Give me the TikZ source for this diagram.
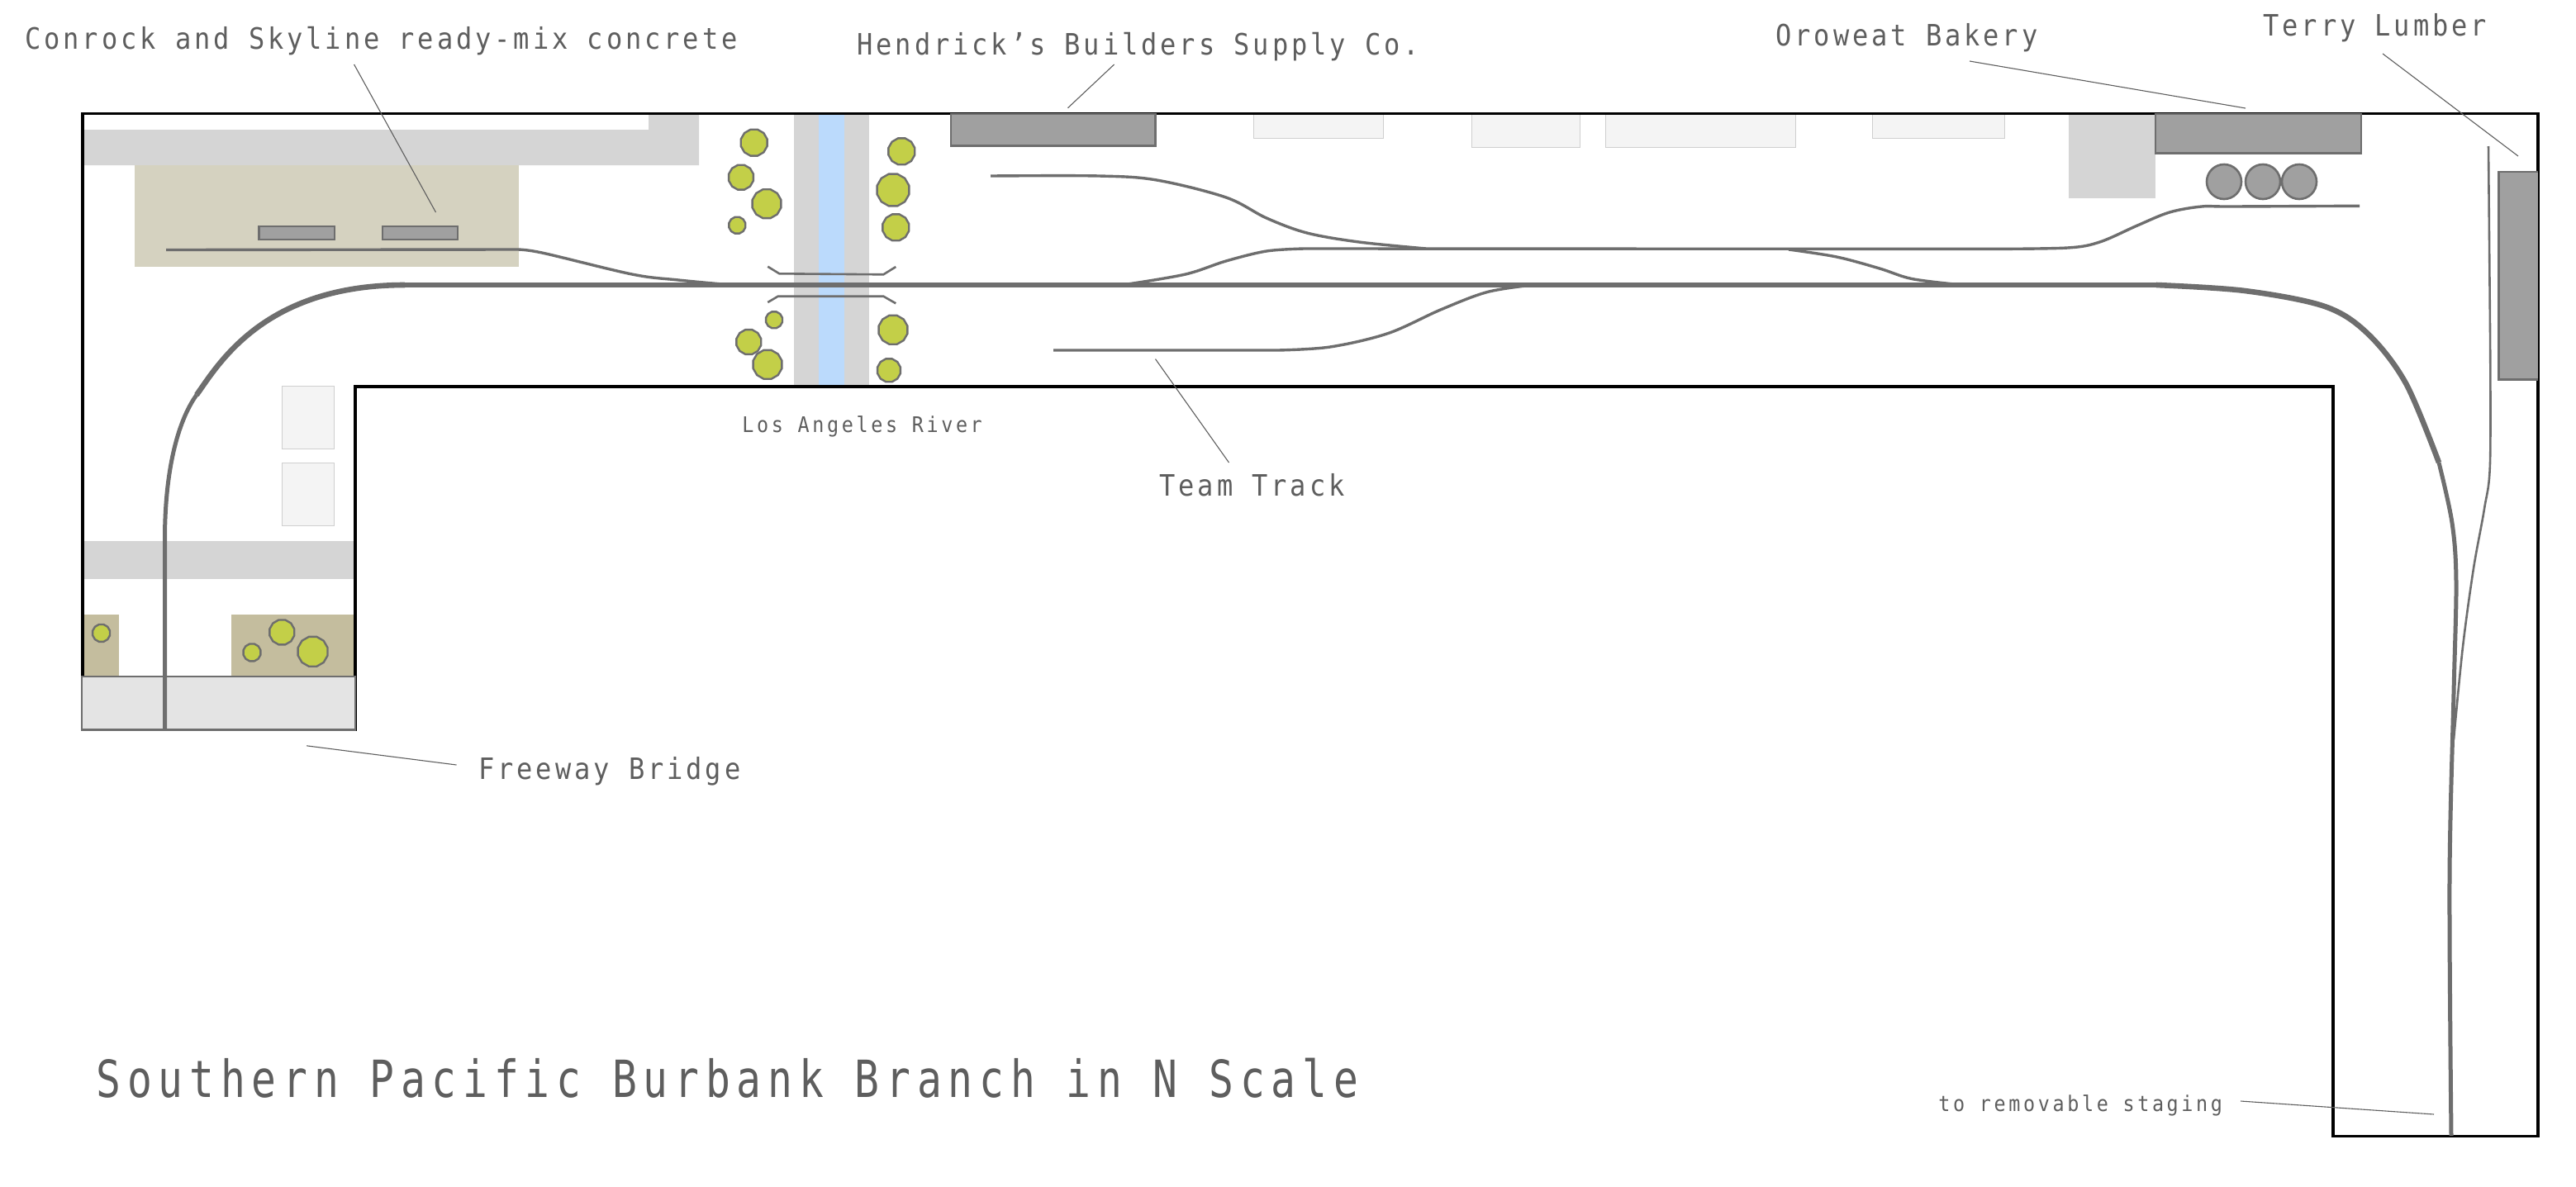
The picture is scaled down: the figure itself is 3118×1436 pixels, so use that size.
\documentclass[tikz,border=0pt]{standalone}
\usepackage{fontspec}
\usetikzlibrary{shapes.geometric}
\newfontfamily\labA{DejaVu Sans Mono}[FakeStretch=0.90,LetterSpace=11]
\newfontfamily\labB{DejaVu Sans Mono}[FakeStretch=0.90,LetterSpace=14]
\newfontfamily\labC{DejaVu Sans Mono}[FakeStretch=0.80,LetterSpace=12.6]
\definecolor{inkc}{HTML}{5E5E5E}
\definecolor{trk}{HTML}{6E6E6E}
\definecolor{road}{HTML}{D5D5D5}
\definecolor{water}{HTML}{BBDAFC}
\definecolor{plant}{HTML}{D5D2C0}
\definecolor{dirt}{HTML}{C4BD9E}
\definecolor{bldg}{HTML}{A0A0A0}
\definecolor{pale}{HTML}{F4F4F4}
\definecolor{paleline}{HTML}{CFCFCF}
\definecolor{leaf}{HTML}{C3CF48}
\definecolor{deck}{HTML}{E4E4E4}
\tikzset{
  x=0.5pt,y=-0.5pt,
  lab/.style={inner sep=0pt,anchor=base west,text=inkc,font=\fontsize{17.8pt}{20pt}\labA},
  labsmall/.style={inner sep=0pt,anchor=base west,text=inkc,font=\fontsize{13pt}{15pt}\labB},
  labtitle/.style={inner sep=0pt,anchor=base west,text=inkc,font=\fontsize{31pt}{34pt}\labC},
  leader/.style={draw=inkc,line width=0.55pt},
  paleb/.style={fill=pale,draw=paleline,line width=0.5pt},
  darkb/.style={fill=bldg,draw=trk,line width=1.25pt},
  tree/.style={regular polygon,regular polygon sides=12,inner sep=0pt,fill=leaf,draw=trk,line width=1.2pt,minimum size=#1*1.03pt},
  tank/.style={circle,inner sep=0pt,fill=bldg,draw=trk,line width=1.3pt,minimum size=21pt},
  mainline/.style={draw=trk,line width=2.8pt},
  mainarc/.style={draw=trk,line width=3.3pt},
  mainlow/.style={draw=trk,line width=2.5pt},
  spur/.style={draw=trk,line width=1.7pt},
  thin spur/.style={draw=trk,line width=1.3pt},
  smoothp/.style={smooth,tension=0.55},
}
\begin{document}
\begin{tikzpicture}
\path[use as bounding box,fill=white] (0,0) rectangle (3118,1436);
% ground
\fill[road] (100,157) -- (785,157) -- (785,139) -- (846,139) -- (846,200) -- (100,200) -- cycle;
\fill[plant] (163,200) rectangle (628,323);
\fill[road] (961,138) rectangle (1052,468);
\fill[water] (991,138) rectangle (1021.7,468);
\fill[road] (100,655) rectangle (430,700.7);
\fill[dirt] (100,743.7) rectangle (143.8,819);
\fill[dirt] (280,743.7) rectangle (430,819);
\fill[road] (2504,138) rectangle (2609,240);
% pale buildings
\draw[paleb] (1517,138) rectangle (1674,167);
\draw[paleb] (1781.5,138) rectangle (1912,178);
\draw[paleb] (1943.5,138) rectangle (2173.4,178);
\draw[paleb] (2266,138) rectangle (2426.6,167);
\draw[paleb] (341,467) rectangle (404,543);
\draw[paleb] (341,560) rectangle (404,636.6);
% benchwork outline
\draw[black,line width=1.6pt,line join=miter] (100,137.5) -- (3072,137.5) -- (3072,1375.6) -- (2824,1375.6) -- (2824,468) -- (430,468) -- (430,883) -- (100,883) -- cycle;
% industries
\draw[darkb] (313.6,274) rectangle (404.8,290);
\draw[darkb] (463,274) rectangle (554,290);
\draw[darkb] (1150.8,138) rectangle (1398.5,176.4);
\draw[darkb] (2609,138) rectangle (2858,185.7);
\draw[darkb] (3072,208) -- (3024.7,208) -- (3024.7,459.6) -- (3072,459.6);
\node[tank] (t1) at (2692,220) {};
\node[tank] (t2) at (2739,220) {};
\node[tank] (t3) at (2783,220) {};
% trees
\node[tree=16] (a1) at (912.7,172.7) {};
\node[tree=15] (a2) at (897,214.7) {};
\node[tree=17.5] (a3) at (928,246.7) {};
\node[tree=10] (a4) at (892.3,272.7) {};
\node[tree=16] (a5) at (1091.3,183.3) {};
\node[tree=19.5] (a6) at (1081,230) {};
\node[tree=16] (a7) at (1084.3,275.3) {};
\node[tree=10] (a8) at (937,387.3) {};
\node[tree=15] (a9) at (906.3,414) {};
\node[tree=17.5] (a10) at (929,441.3) {};
\node[tree=17.5] (a11) at (1081,399.3) {};
\node[tree=14] (a12) at (1076,448.3) {};
\node[tree=10.5] (b1) at (122.6,766.4) {};
\node[tree=15] (b2) at (341.3,765.4) {};
\node[tree=18] (b3) at (378.6,788.8) {};
\node[tree=10.5] (b4) at (305,789.9) {};
% freeway bridge
\draw[fill=deck,draw=trk,line width=1.4pt] (99,819) rectangle (430,883.5);
% river bridge
\draw[thin spur] (929.3,322.7) -- (943.3,331.3) -- (1069.3,332.3) -- (1084.3,323);
\draw[thin spur] (929.3,366) -- (941.7,358.7) -- (1069.3,358.7) -- (1084.3,367.3);
% tracks
\draw[mainlow] (199.5,883) -- (199.5,653) .. controls (199.5,570) and (215,510) .. (238,478);
\draw[mainarc] (238,478) .. controls (265,440) and (320,345) .. (490,345);
\draw[mainline] (490,345) -- (2610,345);
\draw[mainarc] plot[smoothp] coordinates {(2610,345) (2717,352) (2814,371) (2866,404) (2912,464) (2952,560)};
\draw[mainlow] plot[smoothp] coordinates {(2952,560) (2968,633) (2973,705) (2970,839) (2965,1063) (2967,1375)};
\draw[spur] (201,302.5) -- (624,302) plot[smoothp] coordinates {(624,302) (656,306) (765,332) (821,339) (885,345)};
\draw[spur] plot[smoothp] coordinates {(1199,213) (1330,213) (1400,218) (1484,239) (1533,264) (1582,282) (1645,293) (1726,301)};
\draw[spur] plot[smoothp] coordinates {(2856,249.3) (2700,250) (2665,250) (2626,257) (2587,273) (2541.5,293) (2502.6,300) (2412,301.4)} -- (1578.7,301)
  plot[smoothp] coordinates {(1578.7,301) (1533,304) (1484,316) (1435,332) (1365,344)};
\draw[spur] plot[smoothp] coordinates {(2165,302) (2223,311) (2275,325) (2314,337.5) (2370,344.5)};
\draw[spur] (1275,424) -- (1547,424) plot[smoothp] coordinates {(1547,424) (1610,420) (1680,403.6) (1743.6,375) (1800,353.6) (1855,345)};
\draw[thin spur] (3012,177) -- (3014,400) plot[smoothp] coordinates {(3014,400) (3014,560) (3007,616) (2994,688) (2981,783) (2970,895)};
% labels
\node[lab] (conrock) at (30,59) {Conrock and Skyline ready-mix concrete};
\node[lab] (hendrick) at (1037,66) {Hendrick’s Builders Supply Co.};
\node[lab] (oroweat) at (2149,55) {Oroweat Bakery};
\node[lab] (terry) at (2739,43.6) {Terry Lumber};
\node[lab] (team) at (1403,600) {Team Track};
\node[lab] (freeway) at (579,943) {Freeway Bridge};
\node[labsmall] (river) at (898,523) {Los Angeles River};
\node[labsmall] (stage) at (2346,1345) {to removable staging};
\node[labtitle] (title) at (116,1328) {Southern Pacific Burbank Branch in N Scale};
% leaders
\coordinate (c1) at (428.6,78); \coordinate (c2) at (527.5,257);
\coordinate (h1) at (1348.6,78); \coordinate (h2) at (1292.5,130.7);
\coordinate (o1) at (2384,74); \coordinate (o2) at (2718,131);
\coordinate (y1) at (2884,65); \coordinate (y2) at (3048,189);
\coordinate (e1) at (1398.5,434.6); \coordinate (e2) at (1487.5,560);
\coordinate (f1) at (371,902.8); \coordinate (f2) at (552.5,926);
\coordinate (s1) at (2712,1333); \coordinate (s2) at (2946,1349);
\draw[leader] (c1) -- (c2);
\draw[leader] (h1) -- (h2);
\draw[leader] (o1) -- (o2);
\draw[leader] (y1) -- (y2);
\draw[leader] (e1) -- (e2);
\draw[leader] (f1) -- (f2);
\draw[leader] (s1) -- (s2);
\end{tikzpicture}
\end{document}
